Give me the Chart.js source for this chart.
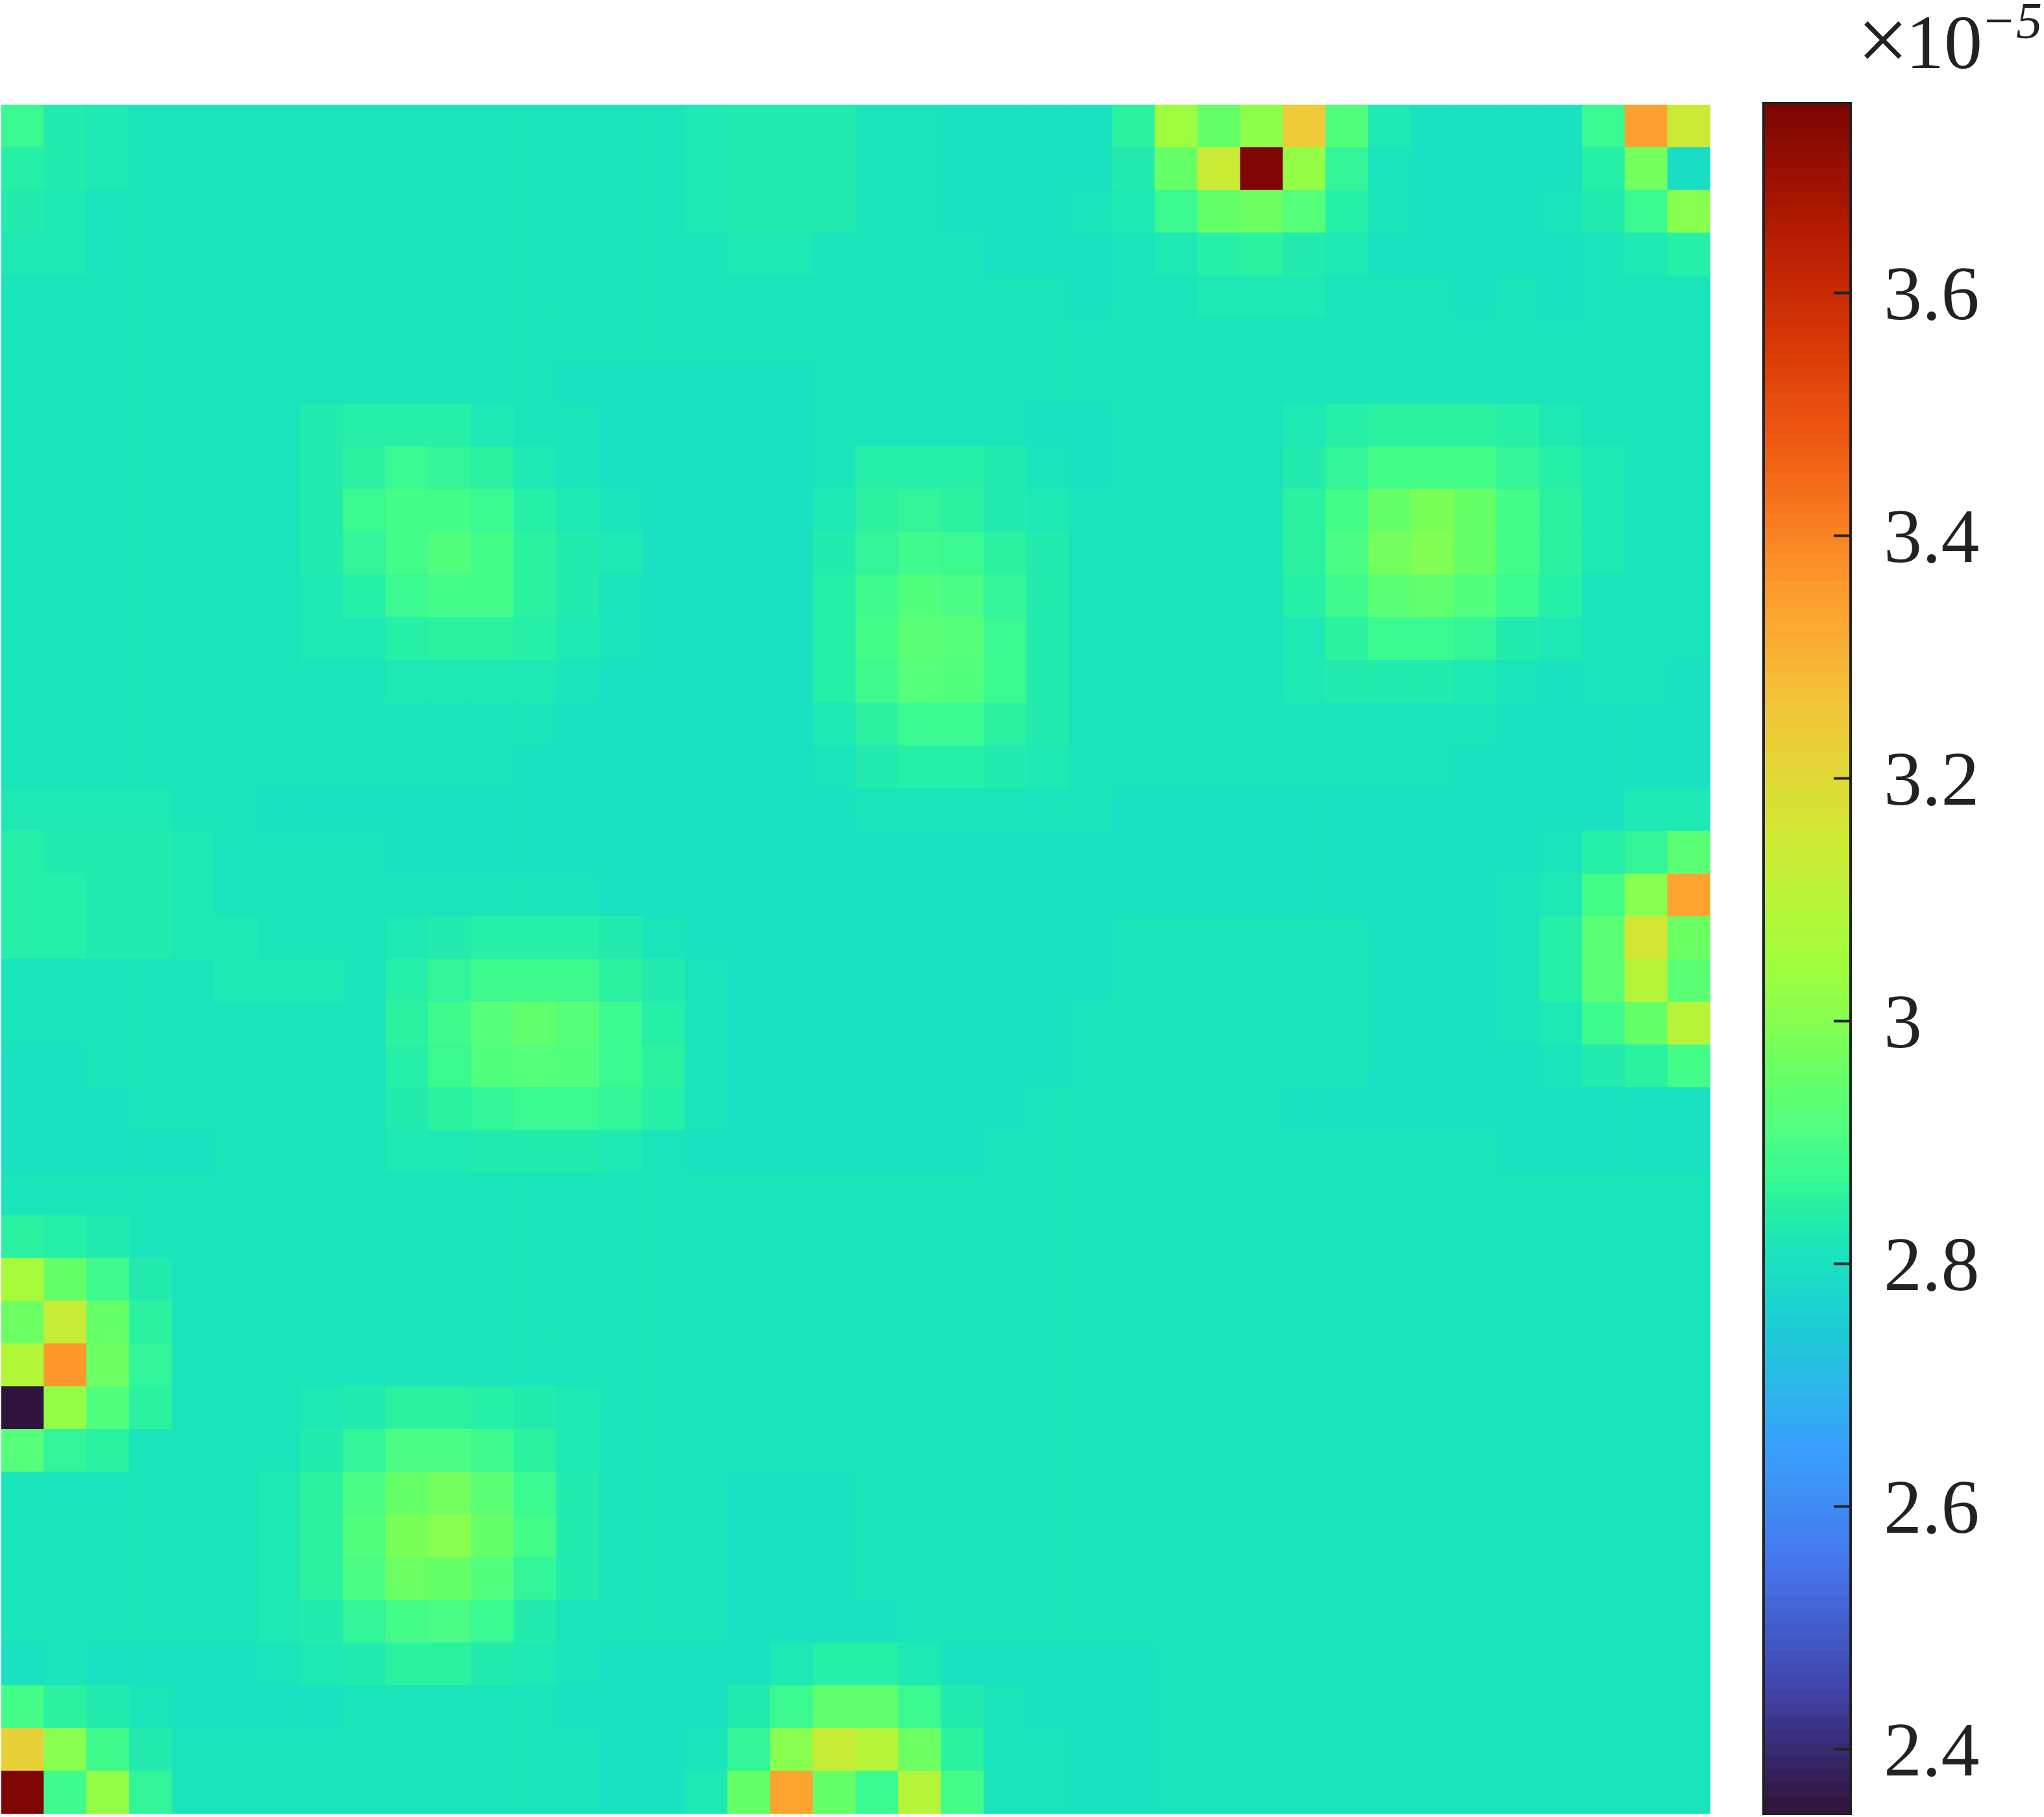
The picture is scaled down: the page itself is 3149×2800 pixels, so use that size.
<!DOCTYPE html>
<html><head><meta charset="utf-8">
<script src="https://cdn.jsdelivr.net/npm/chart.js@4"></script>
<style>html,body{margin:0;padding:0;background:#fff}canvas{position:absolute;left:0;top:0}</style>
</head><body>
<canvas id="heat" width="3149" height="2800"></canvas>
<canvas id="bar" width="3149" height="2800"></canvas>
<script>
// Field values, in hundredths of 1e-5 (top row first, left column first)
const fieldRows = [
[287,283,282,281,281,281,281,281,281,281,281,281,281,281,281,281,282,283,283,283,281,281,280,280,280,280,285,304,295,301,324,291,282,280,280,280,280,287,334,314],
[284,283,282,281,281,281,281,281,281,281,281,281,281,281,281,281,282,283,283,283,281,281,280,280,280,280,283,295,314,375,302,286,281,280,280,280,280,284,297,279],
[283,282,281,281,281,281,281,281,281,281,281,281,281,281,281,281,282,283,283,283,281,281,280,280,280,281,282,287,295,296,292,284,281,280,280,280,281,283,287,300],
[282,282,281,281,281,281,281,281,281,281,281,281,281,281,281,281,281,282,282,281,281,281,281,280,280,280,281,282,284,285,283,282,280,280,280,280,280,281,282,284],
[281,281,281,281,281,281,281,281,281,281,281,281,281,281,281,281,281,281,281,281,281,281,281,281,281,280,281,281,282,282,282,281,281,281,280,281,280,281,281,281],
[281,281,281,281,281,281,281,281,281,281,281,281,281,281,281,281,281,281,281,281,281,281,281,281,281,281,281,281,281,281,281,281,281,281,281,281,281,281,281,281],
[281,281,281,281,281,281,281,281,281,281,281,281,281,280,280,280,280,280,280,281,281,281,281,281,281,281,281,281,281,281,281,281,281,281,281,281,281,281,281,281],
[281,281,281,281,281,281,281,283,284,284,284,282,281,281,280,280,280,280,280,281,281,281,281,281,280,280,281,281,281,281,282,284,285,285,285,284,282,281,281,281],
[281,281,281,281,281,281,281,283,285,287,286,285,282,281,280,280,280,280,280,281,284,284,284,283,281,280,281,281,281,281,283,286,289,289,289,286,284,282,281,281],
[281,281,281,281,281,281,281,283,287,289,289,287,284,282,281,280,280,280,280,282,285,286,285,283,282,281,281,281,281,281,285,289,295,298,295,289,285,282,281,281],
[281,281,281,281,281,281,281,283,286,289,291,289,285,283,282,280,280,280,280,283,286,288,287,285,283,281,281,281,281,281,285,290,297,299,295,289,285,282,281,281],
[281,281,281,281,281,281,281,282,284,287,289,289,285,283,281,280,280,280,280,284,288,291,290,286,283,281,281,281,281,281,284,288,293,294,291,287,284,281,281,281],
[281,281,281,281,281,281,281,282,282,284,285,285,284,282,281,280,280,280,280,284,289,293,292,287,283,281,281,281,281,281,282,285,287,287,286,283,282,281,281,281],
[281,281,281,281,281,281,281,281,281,282,282,282,282,281,280,280,280,280,280,284,288,292,291,287,283,281,281,281,281,281,282,283,283,283,282,281,280,281,281,280],
[281,281,281,281,281,281,281,281,281,281,281,281,281,280,280,280,280,280,280,282,285,287,287,285,283,281,281,281,281,281,281,281,281,281,281,280,280,280,280,280],
[281,281,281,281,281,281,281,281,281,281,281,281,280,280,280,280,280,280,280,281,283,284,284,283,282,281,281,281,281,281,281,281,281,281,280,280,280,280,280,280],
[282,282,282,282,281,281,280,280,280,280,280,280,280,280,280,280,280,280,280,280,281,281,281,281,281,281,280,280,280,280,280,280,280,280,280,280,280,280,282,282],
[284,283,283,283,282,281,281,281,281,280,280,280,280,280,280,280,280,280,280,280,280,280,280,280,280,280,280,280,280,280,280,280,280,280,280,280,281,284,286,293],
[284,284,283,283,282,281,281,281,281,281,281,281,281,281,280,280,280,280,280,280,280,280,280,280,280,280,280,280,280,280,280,280,280,280,280,281,282,289,300,333],
[284,284,283,283,282,282,281,281,281,282,283,284,284,284,283,281,280,280,280,280,280,280,280,280,280,280,281,281,281,281,281,281,280,280,280,281,284,293,316,296],
[281,281,281,281,281,282,282,282,281,284,286,288,288,288,285,283,281,280,280,280,280,280,280,280,280,280,281,281,281,281,281,281,280,280,280,281,284,293,309,293],
[281,281,281,281,281,281,281,281,281,285,288,292,294,292,287,284,281,280,280,280,280,280,280,280,280,281,281,281,281,281,281,281,280,280,280,281,282,288,295,309],
[280,280,281,281,281,281,281,281,281,284,287,291,292,291,287,285,281,280,280,280,280,280,280,280,280,281,281,281,281,281,281,281,280,280,280,280,281,283,285,289],
[280,280,280,281,281,281,281,281,281,283,285,286,287,287,286,284,281,280,280,280,280,280,280,280,281,281,281,281,281,281,280,280,280,280,280,280,280,280,280,280],
[280,280,280,280,280,281,281,281,281,282,282,283,283,283,282,281,280,280,280,280,280,280,280,281,281,281,281,281,281,281,281,281,281,281,281,280,280,280,280,280],
[281,281,281,281,281,281,281,281,281,281,281,281,281,281,281,281,281,281,281,281,281,281,281,281,281,281,281,281,281,281,281,281,281,281,281,281,281,281,281,281],
[285,284,283,281,281,281,281,281,281,281,281,281,281,281,281,281,281,281,281,281,281,281,281,281,281,281,281,281,281,281,281,281,281,281,281,281,281,281,281,281],
[306,295,288,283,281,281,281,281,281,281,281,281,281,281,281,281,281,281,281,281,281,281,281,281,281,281,281,281,281,281,281,281,281,281,281,281,281,281,281,281],
[296,313,295,285,281,281,281,281,281,281,281,281,281,281,281,281,281,281,281,281,281,281,281,281,281,281,281,281,281,281,281,281,281,281,281,281,281,281,281,281],
[308,336,296,286,281,281,281,281,281,281,281,281,281,281,281,281,281,281,281,281,281,281,281,281,281,281,281,281,281,281,281,281,281,281,281,281,281,281,281,281],
[235,302,291,285,281,281,281,282,283,285,285,284,283,282,281,281,281,281,281,281,281,281,281,281,281,281,281,281,281,281,281,281,281,281,281,281,281,281,281,281],
[292,286,285,281,281,281,281,283,286,290,290,288,285,282,281,281,281,281,281,281,281,281,281,281,281,281,281,281,281,281,281,281,281,281,281,281,281,281,281,281],
[281,281,281,281,281,281,282,285,290,295,297,293,287,283,281,281,281,280,280,280,281,281,281,281,281,281,281,281,281,281,281,281,281,281,281,281,281,281,281,281],
[281,281,281,281,281,281,282,285,291,298,300,295,289,283,281,281,281,280,280,280,281,281,281,281,281,281,281,281,281,281,281,281,281,281,281,281,281,281,281,281],
[281,281,281,281,281,281,282,285,290,296,295,291,286,283,281,281,281,280,280,280,281,281,281,281,281,281,281,281,281,281,281,281,281,281,281,281,281,281,281,281],
[281,281,281,281,281,281,282,283,286,289,290,287,283,281,281,281,281,280,280,280,280,281,281,281,281,281,281,281,281,281,281,281,281,281,281,281,281,281,281,281],
[280,281,280,280,280,280,281,282,283,285,285,283,282,281,280,280,280,280,282,284,284,282,280,280,280,280,280,281,281,281,281,281,281,281,281,281,281,281,281,281],
[289,285,283,281,280,280,280,280,281,281,281,281,281,280,280,280,280,283,287,294,294,287,283,281,280,280,280,281,281,281,281,281,281,281,281,281,281,281,281,281],
[322,300,288,283,281,281,281,281,281,281,281,281,281,281,280,280,281,286,300,313,309,296,285,281,281,280,280,281,281,281,281,281,281,281,281,281,281,281,281,281],
[375,288,302,286,281,281,281,281,281,281,281,281,281,281,280,280,282,295,333,295,287,309,289,281,281,280,280,281,281,281,281,281,281,281,281,281,281,281,281,281]
];
const colorbarTicks = [2.4, 2.6, 2.8, 3, 3.2, 3.4, 3.6];
const colorMin = 2.347;
const colorMax = 3.7565;
const colorLevels = 128;
const turboAt  = [0,1/14,2/14,3/14,4/14,0.329,0.357,0.371,0.386,0.4,0.43,0.464,0.5,8/14,9/14,10/14,11/14,12/14,13/14,1];
const turboHex = ['#30123b','#4145ab','#4675ed','#39a2fc','#1bcfd4','#1ae5ba','#2af2a0','#3af991','#45fc88','#52ff7f','#66ff66','#8aff4e','#a4fc3b','#d1e834','#f3c63a','#fe9b2d','#f36315','#d93806','#b11901','#7a0402'];
const exponentParts = ['\u00d7', '10', '\u2212', '5'];
const heatWidth = 2633;

function hexRgb(h){return [1,3,5].map(i=>parseInt(h.slice(i,i+2),16));}
function turbo(t){
  t=Math.min(1,Math.max(0,t));
  let i=0;while(i<turboAt.length-2&&t>turboAt[i+1])i++;
  const f=(t-turboAt[i])/(turboAt[i+1]-turboAt[i]);
  const a=hexRgb(turboHex[i]),b=hexRgb(turboHex[i+1]);
  return 'rgb('+a.map((v,k)=>Math.round(v+(b[k]-v)*f)).join(',')+')';
}
const colorOf=v=>turbo((v-colorMin)/(colorMax-colorMin));
const INK='#222222';
const SERIF='"Liberation Serif"';
const cells=[],cellColors=[];
fieldRows.forEach((row,r)=>row.forEach((v,c)=>{cells.push({x:c+0.5,y:r+0.5,v:v/100});cellColors.push(colorOf(v/100));}));

new Chart(document.getElementById('heat'),{
  type:'scatter',
  data:{datasets:[{data:cells,clip:0,showLine:false,pointStyle:'rect',pointBorderWidth:0,
    pointBackgroundColor:cellColors,
    pointRadius:(heatWidth/fieldRows[0].length+1)*Math.SQRT1_2}]},
  options:{responsive:false,animation:false,devicePixelRatio:1,events:[],
    layout:{autoPadding:false,padding:{left:2,right:3149-2-heatWidth,top:161.6,bottom:5}},
    plugins:{legend:{display:false},tooltip:{enabled:false},title:{display:false}},
    scales:{
      x:{type:'linear',display:false,min:0,max:fieldRows[0].length},
      y:{type:'linear',display:false,min:0,max:fieldRows.length,reverse:true}
    }}
});

const levelData=[];
for(let i=0;i<colorLevels;i++){levelData.push(i);}
const framePlugin={id:'frame',afterDraw(chart){
  const a=chart.chartArea,ctx=chart.ctx;
  ctx.save();
  ctx.strokeStyle=INK;ctx.lineWidth=4;
  ctx.strokeRect(a.left,a.top,a.right-a.left,a.bottom-a.top);
  ctx.fillStyle=INK;ctx.textBaseline='alphabetic';ctx.textAlign='left';
  ctx.font='141px '+SERIF;
  ctx.fillText(exponentParts[0],2861,109);
  ctx.font='118px '+SERIF;
  ctx.fillText(exponentParts[1],2936,105);
  ctx.font='80px '+SERIF;
  ctx.fillText(exponentParts[2],3057,59);
  ctx.font='italic 80px '+SERIF;
  ctx.fillText(exponentParts[3],3106,59);
  ctx.restore();
}};
new Chart(document.getElementById('bar'),{
  type:'bar',
  data:{labels:['c'],datasets:levelData.map(i=>{
    const step=(colorMax-colorMin)/colorLevels,lo=colorMin+i*step;
    return {data:[[lo,Math.min(colorMax,lo+step*1.25)]],backgroundColor:colorOf(lo+step/2),borderWidth:0,barPercentage:1,categoryPercentage:1,grouped:false};
  })},
  plugins:[framePlugin],
  options:{responsive:false,animation:false,devicePixelRatio:1,events:[],
    layout:{autoPadding:false,padding:{left:2717,right:8,top:159,bottom:5}},
    plugins:{legend:{display:false},tooltip:{enabled:false},title:{display:false}},
    scales:{
      x:{display:false,stacked:false},
      y:{position:'right',min:colorMin,max:colorMax,
        afterFit:s=>{s.width=290;s.paddingTop=0;s.paddingBottom=0;},
        afterBuildTicks:s=>{s.ticks=colorbarTicks.map(v=>({value:v}));},
        border:{display:false},
        grid:{z:2,drawOnChartArea:false,drawTicks:true,tickLength:-26,tickWidth:4,tickColor:INK},
        ticks:{autoSkip:false,maxRotation:0,padding:77,labelOffset:9,color:INK,font:{family:SERIF,size:118},callback:v=>String(v)}
      }
    }}
});
</script>
</body></html>
